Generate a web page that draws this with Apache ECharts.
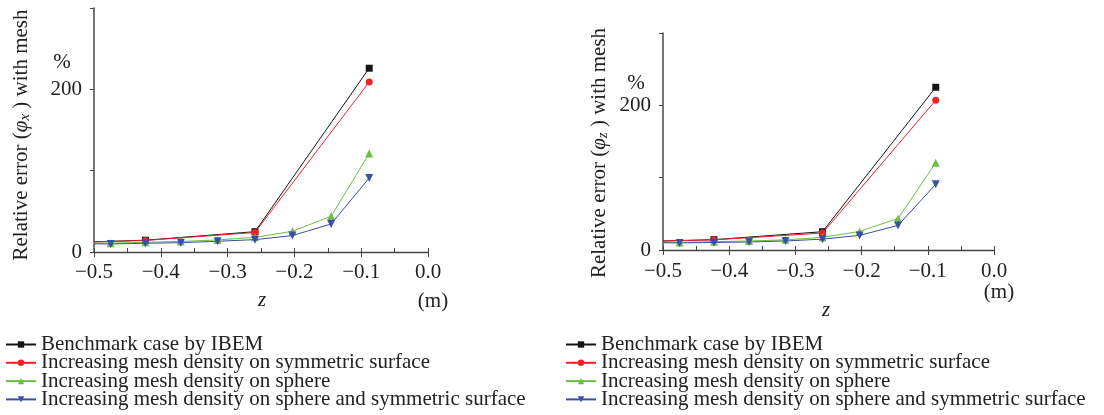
<!DOCTYPE html>
<html><head><meta charset="utf-8">
<script src="https://cdn.jsdelivr.net/npm/echarts@6/dist/echarts.min.js"></script>
<style>html,body{margin:0;padding:0;background:#fff}#c{width:1104px;height:415px}</style>
</head><body><div id="c"></div>
<script>
// ---- data ----
const seriesNames = [
  'Benchmark case by IBEM',
  'Increasing mesh density on symmetric surface',
  'Increasing mesh density on sphere',
  'Increasing mesh density on sphere and symmetric surface'
];
const zCoarse = [-0.5, -0.423, -0.259, -0.088];
const zFine = [-0.5, -0.475, -0.423, -0.370, -0.315, -0.259, -0.203, -0.145, -0.088];
// left chart (phi_x)
const benchX = [12.5, 14.5, 25, 226];
const symX = [12.3, 14.2, 24, 209];
const sphX = [11, 10.8, 12, 13, 14.8, 18, 25.5, 44, 121];
const bothX = [10, 9.9, 10.7, 11.5, 13.2, 15.2, 20.2, 34.5, 91];
// right chart (phi_z)
const benchZ = [12.5, 14.3, 25.3, 225];
const symZ = [12.4, 14, 23.4, 207];
const sphZ = [10.5, 10.5, 11.5, 12.5, 14, 17.5, 25.7, 43.6, 120.6];
const bothZ = [10, 9.8, 10.5, 11, 12.5, 15, 20.2, 34, 90.8];
const xTickValues = [-0.5, -0.4, -0.3, -0.2, -0.1, 0.0];
const yTickLabelValues = [0, 200];

const colors = ['#141414', '#ec2227', '#6cbf45', '#3b4fa3'];
const symbols = ['rect', 'circle', 'triangle', 'path://M0,0 L10,0 L5,9 Z'];
const symSizes = [7, 7, 8, 8];
const FONT = 'Liberation Serif';

function pairs(xs, ys) { return xs.map((x, i) => [x, ys[i]]); }

function mkSeries(gi, sets) {
  return sets.map((d, k) => ({
    name: seriesNames[k], type: 'line', xAxisIndex: gi * 2, yAxisIndex: gi,
    data: d, symbol: symbols[k],
    symbolSize: (v) => (v[0] <= -0.5 ? 0 : symSizes[k]),
    color: colors[k], lineStyle: { width: 1, color: colors[k] },
    itemStyle: { color: colors[k] }, z: 3 + k, animation: false
  }));
}

const grids = [
  { left: 94, top: 8, width: 334, height: 244 },
  { left: 663, top: 33, width: 331, height: 217 }
];

function xAxes(gi, margin) {
  return [{
    type: 'value', gridIndex: gi, min: -0.5, max: 0, interval: 0.1,
    axisLine: { onZero: false, lineStyle: { color: '#444', width: 1.3 } },
    axisTick: { show: true, length: 5, lineStyle: { color: '#444' } },
    splitLine: { show: false },
    axisLabel: { fontFamily: FONT, fontSize: 21, color: '#222', margin: margin,
      formatter: v => xTickValues.some(t => Math.abs(t - v) < 1e-9) ? ((v < -1e-9 ? '\u2212' : '') + Math.abs(v).toFixed(1)) : '' }
  }, {
    type: 'value', gridIndex: gi, min: -0.5, max: 0, interval: 0.05, position: 'bottom',
    axisLine: { show: false }, axisLabel: { show: false }, splitLine: { show: false },
    axisTick: { show: true, inside: true, length: 4, lineStyle: { color: '#444' } }
  }];
}
function yAxis(gi) {
  return {
    type: 'value', gridIndex: gi, min: 0, max: 300, interval: 100,
    axisLine: { show: true, onZero: false, lineStyle: { color: '#555', width: 1.6 } },
    axisTick: { show: true, length: 4, lineStyle: { color: '#444' } },
    splitLine: { show: false },
    axisLabel: { fontFamily: FONT, fontSize: 21, color: '#222', margin: 12,
      formatter: v => yTickLabelValues.includes(v) ? String(v) : '' }
  };
}

function yName(x, y, sub) {
  return {
    type: 'text', x: x, y: y, rotation: Math.PI / 2,
    style: {
      text: 'Relative error ({i|\u03c6}{s|' + sub + '} ) with mesh',
      fontFamily: FONT, fontSize: 21, fill: '#222', align: 'center', verticalAlign: 'middle',
      rich: {
        i: { fontFamily: FONT, fontSize: 21, fontStyle: 'italic', fill: '#222' },
        s: { fontFamily: FONT, fontSize: 15, fontStyle: 'italic', fill: '#222', verticalAlign: 'bottom', padding: [8, 0, 0, 0] }
      }
    }
  };
}
function txt(x, y, t, italic) {
  return { type: 'text', x: x, y: y, style: { text: t, fontFamily: FONT, fontSize: 21,
    fontStyle: italic ? 'italic' : 'normal', fill: '#222', align: 'center', verticalAlign: 'middle' } };
}

function legend(left) {
  return {
    orient: 'vertical', left: left, top: 334, itemWidth: 30, itemHeight: 8, itemGap: -2.7,
    padding: 0, height: 81,
    data: seriesNames, selectedMode: false,
    textStyle: { fontFamily: FONT, fontSize: 21, color: '#222', lineHeight: 18 }
  };
}

const chart = echarts.init(document.getElementById('c'), null, { renderer: 'canvas' });
chart.setOption({
  backgroundColor: '#fff',
  animation: false,
  grid: grids,
  xAxis: [...xAxes(0, 10), ...xAxes(1, 11)],
  yAxis: [yAxis(0), yAxis(1)],
  legend: [legend(5), legend(565)],
  graphic: [
    yName(21, 135, 'x'), yName(599, 153, 'z'),
    txt(62, 62, '%'), txt(636, 83, '%'),
    txt(262, 300, 'z', true), txt(433, 301, '(m)'),
    txt(826, 310, 'z', true), txt(999, 292, '(m)')
  ],
  series: [
    ...mkSeries(0, [pairs(zCoarse, benchX), pairs(zCoarse, symX), pairs(zFine, sphX), pairs(zFine, bothX)]),
    ...mkSeries(1, [pairs(zCoarse, benchZ), pairs(zCoarse, symZ), pairs(zFine, sphZ), pairs(zFine, bothZ)])
  ]
});
</script></body></html>
